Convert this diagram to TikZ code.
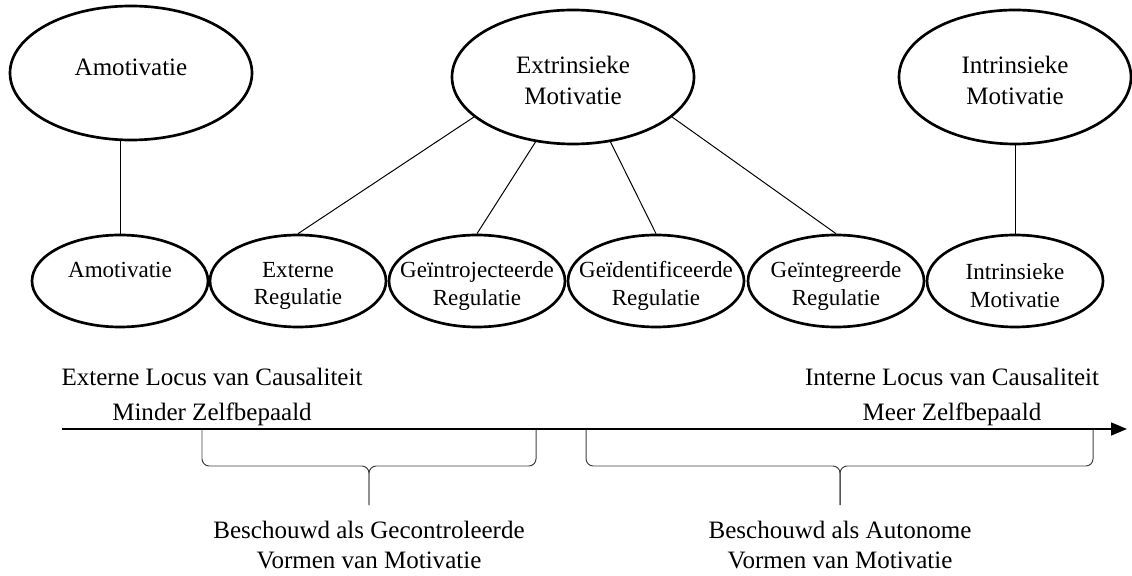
\documentclass[tikz,border=0pt]{standalone}
\usepackage{fontspec}
\setmainfont{Liberation Serif}
\usetikzlibrary{shapes.geometric,arrows.meta}

\begin{document}
\begin{tikzpicture}[
  bigtext/.style={align=center,font=\fontsize{17.8}{22}\selectfont,yshift=-0.08cm},
  smalltext/.style={align=center,font=\fontsize{16.4}{19.5}\selectfont,yshift=-0.12cm},
  bigshape/.style={ellipse,draw,line width=1.9pt,minimum width=6.05cm,minimum height=3.35cm,inner sep=0pt},
  smallshape/.style={ellipse,draw,line width=1.9pt,minimum width=4.4cm,minimum height=2.3cm,inner sep=0pt},
  bigoval/.style={bigshape,label={[bigtext]center:#1}},
  oval/.style={smallshape,label={[smalltext]center:#1}},
  link/.style={line width=0.7pt},
  bracket/.style={line width=0.7pt,draw=black!75},
  axlabel/.style={align=center,inner sep=0pt,font=\fontsize{17.8}{25}\selectfont},
  bracelabel/.style={align=center,inner sep=0pt,font=\fontsize{17.8}{21.5}\selectfont}]
\useasboundingbox (0,0) rectangle (28.3,14.375);
% top row
\node[bigshape,label={[bigtext,yshift=0.23cm]center:Amotivatie}] (amoT) at (3.275,12.55){};
\node[bigoval={Extrinsieke\\Motivatie}] (extT) at (14.325,12.45){};
\node[bigoval={Intrinsieke\\Motivatie},minimum width=5.8cm] (intT) at (25.375,12.45){};
% bottom row
\node[smallshape,label={[smalltext,yshift=0.4cm]center:Amotivatie}] (amoB) at (3.0,7.35){};
\node[oval={Externe\\Regulatie}] (extR) at (7.45,7.35){};
\node[oval={Geïntrojecteerde\\Regulatie}] (ijR) at (11.925,7.35){};
\node[oval={Geïdentificeerde\\Regulatie}] (idR) at (16.4,7.35){};
\node[oval={Geïntegreerde\\Regulatie}] (igR) at (20.9,7.35){};
\node[oval={Intrinsieke\\Motivatie}] (intB) at (25.375,7.35){};
% links
\draw[link] (amoB.north) -- (amoB.north |- amoT.south);
\draw[link] (extT.202) -- (extR.north);
\draw[link] (extT.240) -- (ijR.north);
\draw[link] (extT.300) -- (idR.north);
\draw[link] (extT.338) -- (igR.north);
\draw[link] (intT.south) -- (intB.north);
% axis
\coordinate (axL) at (1.55,3.65);
\coordinate (axR) at (28.175,3.65);
\draw[line width=1.6pt,-{Triangle[length=0.4cm,width=0.32cm]}] (axL) -- (axR);
\node[axlabel,anchor=south] (extLoc) at (5.3,3.72){Externe Locus van Causaliteit\\Minder Zelfbepaald};
\node[axlabel,anchor=south] (intLoc) at (23.8,3.72){Interne Locus van Causaliteit\\Meer Zelfbepaald};
% braces
\foreach \a/\m/\b in {5.05/9.225/13.4,14.65/21.0/27.325}{
  \draw[bracket] (\a,3.62) [rounded corners=0.18cm] -- (\a,2.725) [sharp corners] -- (\m-0.18,2.725) arc[start angle=90,end angle=0,radius=0.18] -- (\m,1.75);
  \draw[bracket] (\b,3.62) [rounded corners=0.18cm] -- (\b,2.725) [sharp corners] -- (\m+0.18,2.725) arc[start angle=90,end angle=180,radius=0.18] -- (\m,1.75);
}
\node[bracelabel,anchor=north] (ctrl) at (9.225,1.35){Beschouwd als Gecontroleerde\\Vormen van Motivatie};
\node[bracelabel,anchor=north] (auto) at (21.0,1.35){Beschouwd als Autonome\\Vormen van Motivatie};
\end{tikzpicture}
\end{document}
